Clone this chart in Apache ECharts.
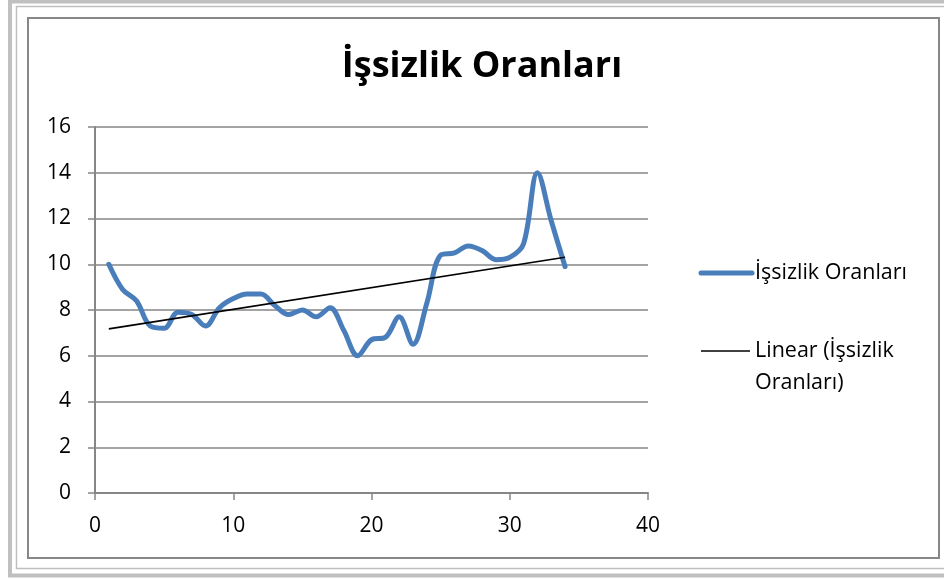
<!DOCTYPE html>
<html>
<head>
<meta charset="utf-8">
<script src="https://cdn.jsdelivr.net/npm/echarts@6/dist/echarts.min.js"></script>
<style>
  html, body { margin: 0; padding: 0; background: #fff; }
  #chart { width: 944px; height: 579px; }
</style>
</head>
<body>
<div id="chart"></div>
<script>
// Unemployment rate by period (1..34)
const periods = [1,2,3,4,5,6,7,8,9,10,11,12,13,14,15,16,17,18,19,20,21,22,23,24,25,26,27,28,29,30,31,32,33,34];
const rates = [10.0,8.9,8.4,7.3,7.2,7.9,7.8,7.3,8.1,8.5,8.7,8.7,8.2,7.8,8.0,7.7,8.1,7.1,6.0,6.7,6.8,7.7,6.5,8.3,10.4,10.5,10.8,10.6,10.2,10.3,10.9,14.0,11.9,9.9];
const xTicks = [0, 10, 20, 30, 40];
const yTicks = [0, 2, 4, 6, 8, 10, 12, 14, 16];
const seriesName = 'İşsizlik Oranları';
const trendName = 'Linear (İşsizlik\nOranları)';

// Least-squares trend line over the data
function linearFit(xs, ys) {
  const n = xs.length;
  let sx = 0, sy = 0, sxx = 0, sxy = 0;
  for (let i = 0; i < n; i++) { sx += xs[i]; sy += ys[i]; sxx += xs[i] * xs[i]; sxy += xs[i] * ys[i]; }
  const b = (n * sxy - sx * sy) / (n * sxx - sx * sx);
  const a = (sy - b * sx) / n;
  return [a, b];
}
const [ia, ib] = linearFit(periods, rates);
const x0 = periods[0], x1 = periods[periods.length - 1];
const trend = [[x0, ia + ib * x0], [x1, ia + ib * x1]];

const FONT = 'Open Sans';
const chart = echarts.init(document.getElementById('chart'), null, { renderer: 'canvas' });
chart.setOption({
  animation: false,
  backgroundColor: '#fff',
  textStyle: { fontFamily: FONT },
  title: {
    text: seriesName,
    left: 477, top: 44, textAlign: 'center',
    textStyle: { fontFamily: FONT, fontWeight: 'bold', fontSize: 36, color: '#000' }
  },
  grid: { left: 95, top: 127, width: 553, height: 366, containLabel: false },
  xAxis: {
    type: 'value', min: xTicks[0], max: xTicks[xTicks.length - 1], interval: 10,
    axisLine: { lineStyle: { color: '#868686', width: 2 } },
    axisTick: { show: true, length: 7, lineStyle: { color: '#868686', width: 1.5 } },
    axisLabel: { color: '#000', fontSize: 21, fontFamily: FONT, margin: 23 },
    splitLine: { show: false }
  },
  yAxis: {
    type: 'value', min: yTicks[0], max: yTicks[yTicks.length - 1], interval: 2,
    axisLine: { show: true, lineStyle: { color: '#868686', width: 2 } },
    axisTick: { show: true, length: 7, lineStyle: { color: '#868686', width: 1.5 } },
    axisLabel: { color: '#000', fontSize: 21, fontFamily: FONT, margin: 24 },
    splitLine: { show: true, lineStyle: { color: '#868686', width: 1.5 } }
  },
  series: [
    {
      name: seriesName, type: 'line', smooth: 0.35, showSymbol: false,
      data: periods.map((p, i) => [p, rates[i]]),
      lineStyle: { color: '#4a7ebb', width: 5, cap: 'round', join: 'round' },
      z: 3
    },
    {
      name: trendName, type: 'line', showSymbol: false,
      data: trend,
      lineStyle: { color: '#000', width: 1.6 },
      z: 4
    }
  ],
  graphic: [
    // outer double border
    { type: 'rect', shape: { x: 10, y: 1.5, width: 960, height: 574 }, style: { fill: null, stroke: '#c0c0c0', lineWidth: 4 }, silent: true },
    { type: 'rect', shape: { x: 16.5, y: 6.5, width: 960, height: 562 }, style: { fill: null, stroke: '#c0c0c0', lineWidth: 1.5 }, silent: true },
    { type: 'rect', shape: { x: 28, y: 18, width: 911, height: 540 }, style: { fill: null, stroke: '#878787', lineWidth: 2 }, silent: true },
    // legend
    { type: 'line', shape: { x1: 701, y1: 273, x2: 752, y2: 273 }, style: { stroke: '#4a7ebb', lineWidth: 5, lineCap: 'round' }, silent: true },
    { type: 'text', x: 755, y: 273, style: { text: seriesName, fontFamily: FONT, fontSize: 21.5, fill: '#000', verticalAlign: 'middle' }, silent: true },
    { type: 'line', shape: { x1: 701, y1: 351, x2: 750, y2: 351 }, style: { stroke: '#000', lineWidth: 1.6 }, silent: true },
    { type: 'text', x: 755, y: 335, style: { text: trendName, fontFamily: FONT, fontSize: 21.5, lineHeight: 32, fill: '#000', verticalAlign: 'top' }, silent: true }
  ]
});
</script>
</body>
</html>
